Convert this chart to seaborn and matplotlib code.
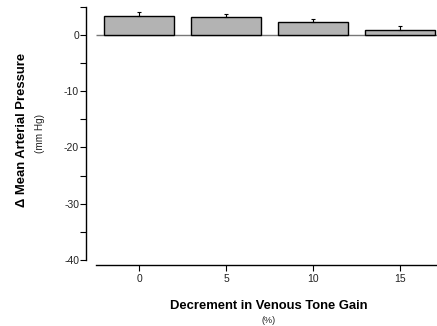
import numpy as np
import pandas as pd
import matplotlib
matplotlib.use('Agg')
import matplotlib.pyplot as plt
from matplotlib.ticker import MultipleLocator
import seaborn as sns

decrement = ['0', '5', '10', '15']
delta_map = [3.5, 3.2, 2.3, 0.9]
delta_err = [0.6, 0.5, 0.6, 0.7]

sns.set_style('ticks')
plt.rcParams['font.family'] = ['Liberation Sans', 'DejaVu Sans']
plt.rcParams['axes.unicode_minus'] = False

df = pd.DataFrame({'decrement': decrement, 'delta': delta_map})

fig = plt.figure(figsize=(4.37, 3.26), dpi=100)
ax = fig.add_axes([0.197, 0.186, 0.818, 0.792])

ax.hlines(0, -0.5, 3.5, color='#777777', lw=1, zorder=1)
sns.barplot(data=df, x='decrement', y='delta', color='#b3b3b3', edgecolor='black',
            linewidth=1, width=0.8, saturation=1, errorbar=None, ax=ax, zorder=2)
ax.errorbar(np.arange(len(decrement)), delta_map, yerr=[np.zeros(len(delta_err)), delta_err],
            fmt='none', ecolor='black', elinewidth=0.8, capsize=1.5, capthick=0.8, zorder=3)

ax.set_xlim(-0.61, 3.5)
ax.set_ylim(-41, 5)
ax.yaxis.set_major_locator(MultipleLocator(10))
ax.yaxis.set_minor_locator(MultipleLocator(5))
ax.spines['top'].set_visible(False)
ax.spines['right'].set_visible(False)
ax.spines['left'].set_bounds(-40, 5)
ax.spines['bottom'].set_bounds(-0.5, 3.5)
for s in ['left', 'bottom']:
    ax.spines[s].set_linewidth(1)
    ax.spines[s].set_color('black')
ax.tick_params(axis='both', which='major', labelsize=7.5, length=4, width=0.8,
               direction='out', pad=2, colors='black', labelcolor='#222222')
ax.tick_params(axis='y', which='minor', length=4, width=0.8, colors='black')
ax.tick_params(axis='y', which='major', pad=1)

ax.set_xlabel('')
ax.set_ylabel('')
fig.text(0.05, 0.601, '\u0394 Mean Arterial Pressure', rotation=90, ha='center', va='center',
         fontsize=9.4, fontweight='bold', color='black')
fig.text(0.0915, 0.59, '(mm Hg)', rotation=90, ha='center', va='center', fontsize=7.2,
         color='#222222')
fig.text(0.614, 0.061, 'Decrement in Venous Tone Gain', ha='center', va='center',
         fontsize=9.4, fontweight='bold', color='black')
fig.text(0.615, 0.018, '(%)', ha='center', va='center', fontsize=6.5, color='#222222')

fig.savefig('out.png', dpi=100)
